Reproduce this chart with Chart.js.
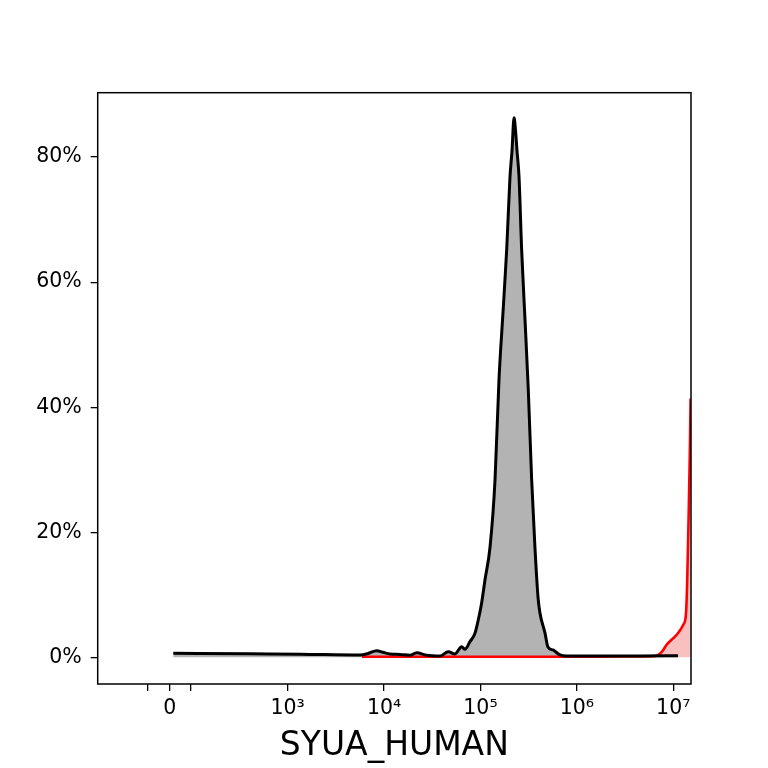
<!DOCTYPE html>
<html>
<head>
<meta charset="utf-8">
<script src="https://cdn.jsdelivr.net/npm/chart.js@4/dist/chart.umd.min.js"></script>
<style>
  html, body { margin: 0; padding: 0; background: #fff; }
  canvas { display: block; }
</style>
</head>
<body>
<canvas id="histo" width="768" height="768"></canvas>
<script>
// x positions are in the axis' own display units (decades, 3 = 10^3)
const stainPos = [1.813, 2.609, 3.128, 3.750, 3.833, 3.923, 3.989, 4.061, 4.165, 4.269, 4.338, 4.442,
  4.580, 4.666, 4.735, 4.805, 4.839, 4.891, 4.943, 4.977, 5.012, 5.047, 5.099, 5.151, 5.192, 5.233,
  5.272, 5.306, 5.327, 5.348, 5.363, 5.379, 5.400, 5.427, 5.462, 5.496, 5.531, 5.565, 5.597, 5.617,
  5.669, 5.700, 5.752, 5.825, 5.897, 6.240, 6.655, 7.049];
const stainPct = [0.64, 0.55, 0.5, 0.37, 0.6, 1.06, 0.8, 0.53, 0.45, 0.32, 0.74, 0.32,
  0.21, 0.9, 0.53, 1.7, 1.28, 2.5, 3.84, 5.97, 8.7, 12.4, 17.6, 28.4, 44.4, 55,
  65.2, 76.8, 81, 86.3, 84.4, 81, 76.8, 65.2, 54, 42.8, 28.4, 17.6, 9.6, 7.1,
  3.9, 1.65, 1.17, 0.37, 0.2, 0.2, 0.2, 0.25];

const ctrlPos = [3.771, 5.203, 6.240, 6.655, 6.810, 6.883, 6.931, 7.035, 7.104, 7.132, 7.145, 7.160, 7.173, 7.180];
const ctrlPct = [0.1, 0.1, 0.1, 0.15, 0.2, 0.9, 2.0, 3.6, 5.2, 7.0, 12.4, 23, 33.7, 41.4];

const xTickPos = [1.551, 1.776, 1.994, 3, 4, 5, 6, 7];
const xTickLabels = ["", "0", "", "10³", "10⁴", "10⁵", "10⁶", "10⁷"];
const yTicks = [0, 20, 40, 60, 80];

const toPoints = (xs, ys) => xs.map((x, i) => ({ x: x, y: ys[i] }));

const frame = {
  id: "frame",
  afterDatasetsDraw(chart) {
    const { ctx, chartArea: a } = chart;
    ctx.save();
    ctx.strokeStyle = "#000";
    ctx.lineWidth = 1.5;
    ctx.strokeRect(a.left, a.top, a.right - a.left, a.bottom - a.top);
    ctx.restore();
  }
};

const font = { family: "DejaVu Sans", size: 20.5 };

new Chart(document.getElementById("histo"), {
  type: "line",
  data: {
    datasets: [
      {
        label: "SYUA_HUMAN",
        data: toPoints(stainPos, stainPct),
        borderColor: "#000",
        borderWidth: 3,
        backgroundColor: "#b3b3b3",
        fill: "origin",
        cubicInterpolationMode: "monotone",
        pointRadius: 0
      },
      {
        label: "control",
        data: toPoints(ctrlPos, ctrlPct),
        borderColor: "#ff0000",
        borderWidth: 2.6,
        backgroundColor: "rgba(235, 60, 60, 0.32)",
        fill: "origin",
        cubicInterpolationMode: "monotone",
        pointRadius: 0
      }
    ]
  },
  options: {
    responsive: false,
    animation: false,
    layout: { padding: { top: 92.7, right: 77, left: 0, bottom: 0 } },
    plugins: {
      legend: { display: false },
      tooltip: { enabled: false },
      filler: { drawTime: "beforeDatasetsDraw" }
    },
    scales: {
      x: {
        type: "linear",
        min: 1.029,
        max: 7.184,
        afterBuildTicks: s => { s.ticks = xTickPos.map(v => ({ value: v })); },
        afterFit: s => { s.height = 84; },
        ticks: {
          autoSkip: false,
          maxRotation: 0,
          padding: 5,
          color: "#000",
          font: font,
          callback: (v, i) => xTickLabels[i]
        },
        grid: { drawOnChartArea: false, tickLength: 7, color: "#000", lineWidth: 1.3 },
        border: { display: false },
        title: {
          display: true,
          text: "SYUA_HUMAN",
          color: "#000",
          font: { family: "DejaVu Sans", size: 33 },
          padding: { top: 0, bottom: 2 }
        }
      },
      y: {
        min: -4.27,
        max: 90.3,
        afterBuildTicks: s => { s.ticks = yTicks.map(v => ({ value: v })); },
        afterFit: s => { s.width = 97.7; },
        ticks: {
          padding: 9,
          color: "#000",
          font: font,
          callback: v => v + "%"
        },
        grid: { drawOnChartArea: false, tickLength: 7, color: "#000", lineWidth: 1.3 },
        border: { display: false }
      }
    }
  },
  plugins: [frame]
});
</script>
</body>
</html>
